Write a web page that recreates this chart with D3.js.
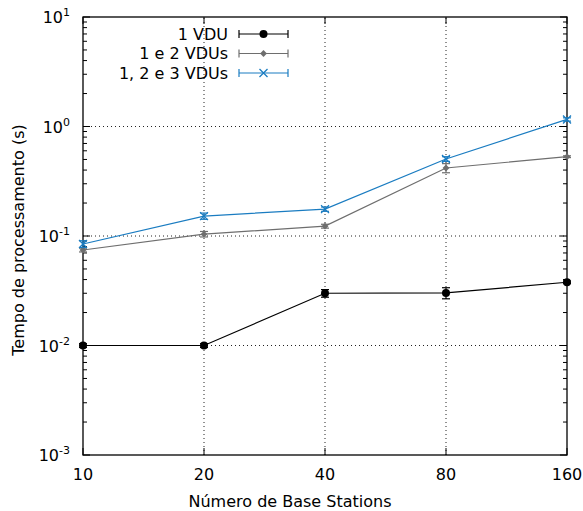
<!DOCTYPE html>
<html>
<head>
<meta charset="utf-8">
<script src="https://cdn.jsdelivr.net/npm/d3@7"></script>
<style>
  body { margin: 0; background: #fff; }
  svg text { font-family: "DejaVu Sans", sans-serif; fill: #000; }
</style>
</head>
<body>
<div id="chart"></div>
<script>
// chart data
let stations = [10, 20, 40, 80, 160];
let seriesNames = ["1 VDU", "1 e 2 VDUs", "1, 2 e 3 VDUs"];
let vdu1 = [0.0100, 0.0100, 0.0300, 0.0302, 0.0378];
let vdu1Err = [0.0004, 0.0004, 0.0024, 0.0035, 0.0010];
let vdu12 = [0.0745, 0.104, 0.123, 0.418, 0.53];
let vdu12Err = [0.003, 0.006, 0.005, 0.04, 0.01];
let vdu123 = [0.0845, 0.152, 0.176, 0.505, 1.16];
let vdu123Err = [0.006, 0.01, 0.008, 0.025, 0.04];
let yTickExp = [-3, -2, -1, 0, 1];

let width = 583, height = 511;
let margin = { left: 83, right: 16, top: 17, bottom: 56 };
let fontSize = "16px";

let colors = ["#000000", "#6e6e6e", "#1a7cc1"];
let series = [
  { name: seriesNames[0], values: vdu1, err: vdu1Err, marker: "circle" },
  { name: seriesNames[1], values: vdu12, err: vdu12Err, marker: "diamond" },
  { name: seriesNames[2], values: vdu123, err: vdu123Err, marker: "cross" }
];

let svg = d3.select("#chart")
  .append("svg")
  .attr("width", width)
  .attr("height", height);

let xScale = d3.scaleLog()
  .base(2)
  .domain([10, 160])
  .range([margin.left, width - margin.right]);

let yScale = d3.scaleLog()
  .domain([1e-3, 10])
  .range([height - margin.bottom, margin.top]);

let x0 = margin.left, x1 = width - margin.right;
let y0 = height - margin.bottom, y1 = margin.top;

// grid lines (dotted)
let grid = svg.append("g").attr("class", "grid");
stations.slice(1, -1).forEach(s => {
  grid.append("line")
    .attr("x1", xScale(s)).attr("x2", xScale(s))
    .attr("y1", y0).attr("y2", y1)
    .attr("stroke", "#222").attr("stroke-width", 1)
    .attr("stroke-dasharray", "1,3");
});
yTickExp.slice(1, -1).forEach(e => {
  grid.append("line")
    .attr("x1", x0).attr("x2", x1)
    .attr("y1", yScale(Math.pow(10, e))).attr("y2", yScale(Math.pow(10, e)))
    .attr("stroke", "#222").attr("stroke-width", 1)
    .attr("stroke-dasharray", "1,3");
});

// ticks on all four sides, pointing inward
let ticks = svg.append("g").attr("stroke", "#000").attr("stroke-width", 1);
let minorVals = [];
for (let e = -3; e < 1; e++) {
  for (let m = 2; m <= 9; m++) minorVals.push(m * Math.pow(10, e));
}
yTickExp.forEach(e => {
  let y = yScale(Math.pow(10, e));
  ticks.append("line").attr("x1", x0).attr("x2", x0 + 7).attr("y1", y).attr("y2", y);
  ticks.append("line").attr("x1", x1).attr("x2", x1 - 7).attr("y1", y).attr("y2", y);
});
minorVals.forEach(v => {
  let y = yScale(v);
  ticks.append("line").attr("x1", x0).attr("x2", x0 + 4).attr("y1", y).attr("y2", y);
  ticks.append("line").attr("x1", x1).attr("x2", x1 - 4).attr("y1", y).attr("y2", y);
});
stations.forEach(s => {
  let x = xScale(s);
  ticks.append("line").attr("x1", x).attr("x2", x).attr("y1", y0).attr("y2", y0 - 7);
  ticks.append("line").attr("x1", x).attr("x2", x).attr("y1", y1).attr("y2", y1 + 7);
});

// frame
svg.append("rect")
  .attr("x", x0).attr("y", y1)
  .attr("width", x1 - x0).attr("height", y0 - y1)
  .attr("fill", "none").attr("stroke", "#000").attr("stroke-width", 1.3);

// tick labels
svg.append("g")
  .selectAll("text")
  .data(stations)
  .enter()
  .append("text")
  .attr("x", d => xScale(d))
  .attr("y", y0 + 25)
  .attr("text-anchor", "middle")
  .style("font-size", fontSize)
  .text(d => d);

let yLab = svg.append("g")
  .selectAll("text")
  .data(yTickExp)
  .enter()
  .append("text")
  .attr("x", x0 - 13)
  .attr("y", d => yScale(Math.pow(10, d)) + 6)
  .attr("text-anchor", "end")
  .style("font-size", fontSize);
yLab.append("tspan").text("10");
yLab.append("tspan")
  .attr("dy", -7)
  .style("font-size", "11px")
  .text(d => d);

// axis titles
svg.append("text")
  .attr("x", 290)
  .attr("y", 507)
  .attr("text-anchor", "middle")
  .style("font-size", fontSize)
  .text("Número de Base Stations");

svg.append("text")
  .attr("transform", "translate(24,240) rotate(-90)")
  .attr("text-anchor", "middle")
  .style("font-size", fontSize)
  .text("Tempo de processamento (s)");

// marker helper
function drawMarker(g, type, x, y, color) {
  if (type === "circle") {
    g.append("circle").attr("cx", x).attr("cy", y).attr("r", 4).attr("fill", color);
  } else if (type === "diamond") {
    g.append("path")
      .attr("d", d3.symbol().type(d3.symbolDiamond2).size(30)())
      .attr("transform", "translate(" + x + "," + y + ")")
      .attr("fill", color);
  } else {
    g.append("path")
      .attr("d", "M-4,-4L4,4M-4,4L4,-4")
      .attr("transform", "translate(" + x + "," + y + ")")
      .attr("stroke", color).attr("stroke-width", 1.3).attr("fill", "none");
  }
}

let lineCreator = d3.line()
  .x(d => xScale(d[0]))
  .y(d => yScale(d[1]));

series.forEach((s, i) => {
  let g = svg.append("g").attr("class", "series");
  let pts = stations.map((st, j) => [st, s.values[j]]);
  g.append("path")
    .datum(pts)
    .attr("fill", "none")
    .attr("stroke", colors[i])
    .attr("stroke-width", 1.2)
    .attr("d", lineCreator);
  // error bars
  stations.forEach((st, j) => {
    let x = xScale(st);
    let lo = yScale(s.values[j] - s.err[j]);
    let hi = yScale(s.values[j] + s.err[j]);
    g.append("line").attr("x1", x).attr("x2", x).attr("y1", lo).attr("y2", hi)
      .attr("stroke", colors[i]).attr("stroke-width", 1.2);
    [lo, hi].forEach(yy => {
      g.append("line").attr("x1", x - 4).attr("x2", x + 4).attr("y1", yy).attr("y2", yy)
        .attr("stroke", colors[i]).attr("stroke-width", 1.2);
    });
  });
  pts.forEach(p => drawMarker(g, s.marker, xScale(p[0]), yScale(p[1]), colors[i]));
});

// legend
let legend = svg.append("g").attr("class", "legend");
series.forEach((s, i) => {
  let y = 34 + i * 19.5;
  legend.append("text")
    .attr("x", 228)
    .attr("y", y + 5.5)
    .attr("text-anchor", "end")
    .style("font-size", fontSize)
    .text(s.name);
  legend.append("line").attr("x1", 239).attr("x2", 288).attr("y1", y).attr("y2", y)
    .attr("stroke", colors[i]).attr("stroke-width", 1.2);
  [239, 288].forEach(xx => {
    legend.append("line").attr("x1", xx).attr("x2", xx).attr("y1", y - 4).attr("y2", y + 4)
      .attr("stroke", colors[i]).attr("stroke-width", 1.2);
  });
  drawMarker(legend, s.marker, 263.5, y, colors[i]);
});
</script>
</body>
</html>
